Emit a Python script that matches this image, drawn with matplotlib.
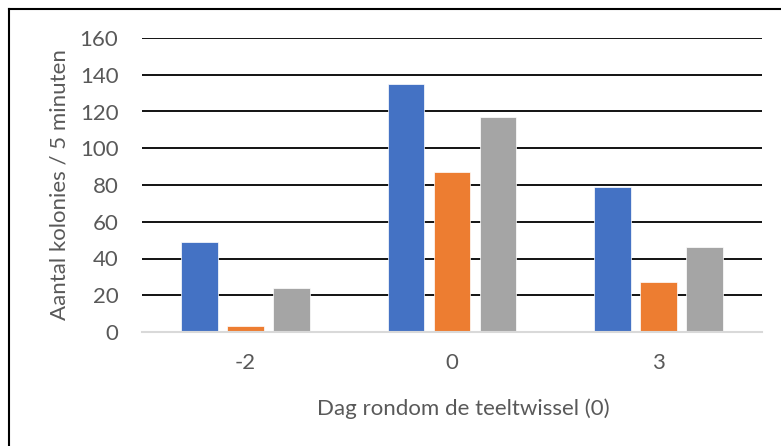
import numpy as np
import matplotlib
matplotlib.use("Agg")
import matplotlib.pyplot as plt
from matplotlib.lines import Line2D

# data
dagen = ["-2", "0", "3"]
reeks1 = [49, 135, 79]
reeks2 = [3, 87, 27]
reeks3 = [24, 117, 46]
kleuren = ["#4472C4", "#ED7D31", "#A5A5A5"]

plt.rcParams["font.family"] = ["Lato", "DejaVu Sans"]
tekstkleur = "#595959"
fs = 16

fig = plt.figure(figsize=(7.81, 4.46), dpi=100)
ax = fig.add_axes([142 / 781, 1 - 332 / 446, 620 / 781, 294 / 446])

x = np.arange(len(dagen))
breedte = 0.177
stap = 0.2226
for i, (waarden, kleur) in enumerate(zip([reeks1, reeks2, reeks3], kleuren)):
    ax.bar(x + (i - 1) * stap, waarden, width=breedte, color=kleur,
           edgecolor="white", linewidth=0.5, zorder=3)

ax.set_xlim(-0.5, 2.5)
ax.set_ylim(0, 160)
ax.set_yticks(range(0, 161, 20))
ax.set_xticks(x)
ax.set_xticklabels(dagen)

ax.yaxis.grid(True, color="black", linewidth=1.3, zorder=1)
ax.set_axisbelow(True)
for s in ["left", "right", "top"]:
    ax.spines[s].set_visible(False)
ax.spines["bottom"].set_color("#D9D9D9")
ax.spines["bottom"].set_linewidth(1.5)
ax.spines["bottom"].set_zorder(4)

ax.tick_params(axis="both", length=0, labelsize=fs, labelcolor=tekstkleur)
ax.tick_params(axis="y", pad=17)
ax.tick_params(axis="x", pad=15)

ax.set_ylabel("Aantal kolonies / 5 minuten", fontsize=fs, color=tekstkleur)
ax.yaxis.set_label_coords(-72 / 620, 0.5)
ax.set_xlabel("Dag rondom de teeltwissel (0)", fontsize=fs, color=tekstkleur)
ax.xaxis.set_label_coords(0.518, -66 / 294)

# kader rond de grafiek
fig.add_artist(Line2D([8.5 / 781, 8.5 / 781], [0, 1 - 9 / 446], color="black",
                      linewidth=1.5, transform=fig.transFigure))
fig.add_artist(Line2D([8.5 / 781, 1], [1 - 9 / 446, 1 - 9 / 446], color="black",
                      linewidth=1.5, transform=fig.transFigure))

fig.savefig("out.png", dpi=100)
